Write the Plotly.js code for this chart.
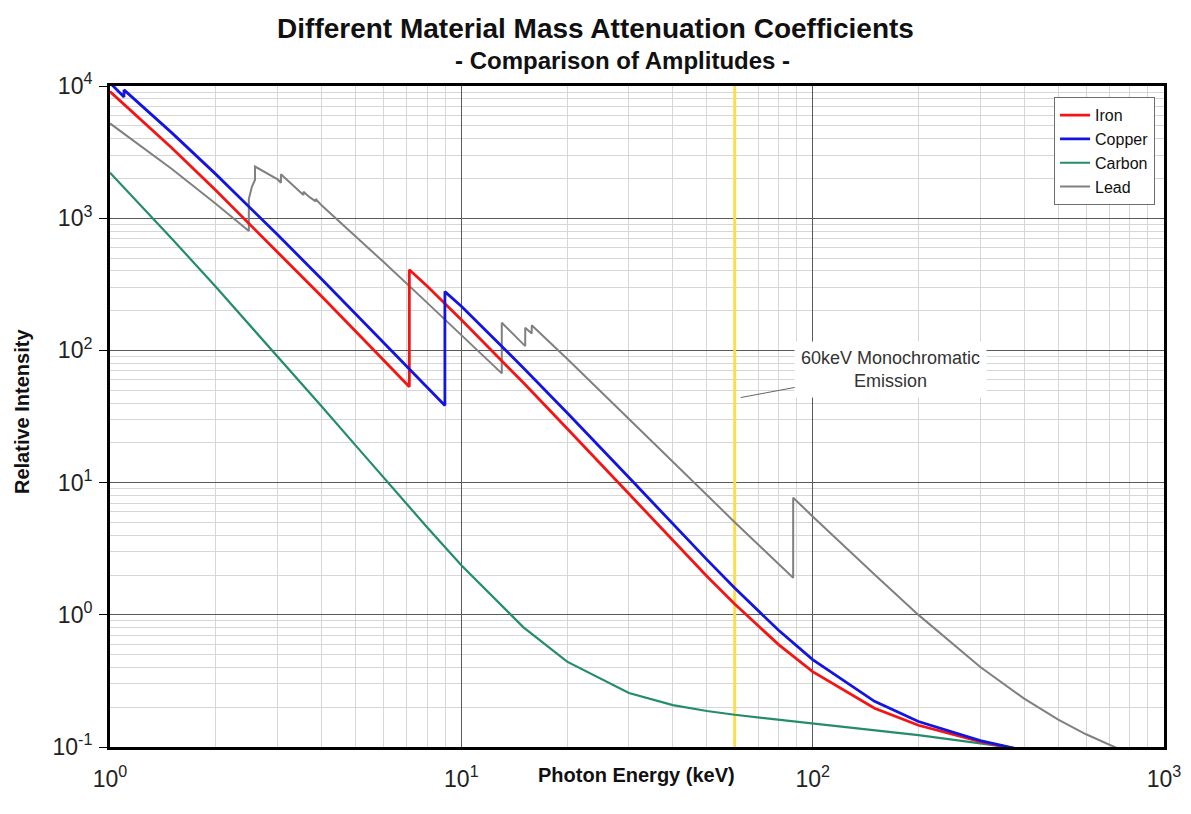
<!DOCTYPE html>
<html>
<head>
<meta charset="utf-8">
<script src="https://cdn.plot.ly/plotly-3.0.1.min.js"></script>
<style>
  html, body { margin: 0; padding: 0; background: #fff; }
  #chart { width: 1191px; height: 814px; }
</style>
</head>
<body>
<div id="chart"></div>
<script>
// Mass attenuation coefficients (cm^2/g) against photon energy (keV).
// Absorption edges appear as a repeated energy with a low and a high value.
const ironKeV = [1, 1.5, 2, 3, 4, 5, 6, 7.112, 7.112, 8, 10, 15, 20, 30, 40, 50, 60, 80, 100, 150, 200, 300, 400];
const ironMu = [9085, 3399, 1626, 557.6, 256.7, 139.5, 84.36, 53.19, 407.6, 305.6, 170.6, 57.08, 25.68, 8.176, 3.629, 1.958, 1.205, 0.5952, 0.3717, 0.1964, 0.146, 0.1099, 0.094];

const copperKeV = [1, 1.0961, 1.0961, 1.5, 2, 3, 4, 5, 6, 8, 8.979, 8.979, 10, 15, 20, 30, 40, 50, 60, 80, 100, 150, 200, 300, 400];
const copperMu = [10570, 8242, 9347, 4418, 2154, 748.8, 347.3, 189.9, 115.6, 52.55, 38.29, 278.4, 215.9, 74.05, 33.79, 10.92, 4.862, 2.613, 1.593, 0.763, 0.4584, 0.2217, 0.1559, 0.1119, 0.09413];

const carbonKeV = [1, 1.5, 2, 3, 4, 5, 6, 8, 10, 15, 20, 30, 40, 50, 60, 80, 100, 150, 200, 300, 400];
const carbonMu = [2211, 700.2, 302.6, 90.33, 37.78, 19.12, 10.95, 4.576, 2.373, 0.8071, 0.442, 0.2562, 0.2076, 0.1871, 0.1753, 0.161, 0.1514, 0.1347, 0.1229, 0.1066, 0.0955];

const leadKeV = [1, 1.5, 2, 2.484, 2.484, 2.534, 2.586, 2.586, 3, 3.066, 3.066, 3.301, 3.554, 3.554, 3.699, 3.851, 3.851, 4, 5, 6, 8, 10, 13.035, 13.035, 15, 15.2, 15.2, 15.527, 15.861, 15.861, 20, 30, 40, 50, 60, 80, 88.004, 88.004, 100, 150, 200, 300, 400, 500, 600, 800];
const leadMu = [5210, 2356, 1285, 800.6, 1397, 1726, 1944, 2458, 1965, 1857, 2146, 1796, 1496, 1585, 1442, 1339, 1396, 1251, 730.4, 467.7, 228.8, 130.6, 67.01, 162.1, 111.6, 107.8, 148.5, 141.6, 134.4, 154.8, 86.36, 30.32, 14.36, 8.041, 5.021, 2.419, 1.910, 7.683, 5.549, 2.014, 0.9985, 0.4031, 0.2323, 0.1614, 0.1248, 0.0887];

// Monochromatic source line
const emissionKeV = 60;
const emissionLabel = '60keV Monochromatic<br>Emission';

// Axis ticks
const xTickVals = [1, 10, 100, 1000];
const xTickText = ['10<sup>0</sup>', '10<sup>1</sup>', '10<sup>2</sup>', '10<sup>3</sup>'];
const yTickVals = [0.1, 1, 10, 100, 1000, 10000];
const yTickText = ['10<sup>-1</sup>', '10<sup>0</sup>', '10<sup>1</sup>', '10<sup>2</sup>', '10<sup>3</sup>', '10<sup>4</sup>'];

// Minor grid positions 2..9 within each decade
function minorLines(fromExp, toExp) {
  const out = [];
  for (let e = fromExp; e < toExp; e++) {
    for (let m = 2; m <= 9; m++) out.push(m * Math.pow(10, e));
  }
  return out;
}

const FONT = 'Arial, "Liberation Sans", Helvetica, sans-serif';

const traces = [
  {
    x: [emissionKeV, emissionKeV], y: [0.1, 10000],
    mode: 'lines', line: { color: 'rgb(250,222,80)', width: 3 },
    showlegend: false, hoverinfo: 'skip'
  },
  {
    name: 'Lead', x: leadKeV, y: leadMu, mode: 'lines',
    line: { color: 'rgb(128,128,128)', width: 2 }, legendrank: 4
  },
  {
    name: 'Carbon', x: carbonKeV, y: carbonMu, mode: 'lines',
    line: { color: 'rgb(35,140,105)', width: 2.2 }, legendrank: 3
  },
  {
    name: 'Iron', x: ironKeV, y: ironMu, mode: 'lines',
    line: { color: 'rgb(245,20,20)', width: 2.8 }, legendrank: 1
  },
  {
    name: 'Copper', x: copperKeV, y: copperMu, mode: 'lines',
    line: { color: 'rgb(20,20,225)', width: 2.8 }, legendrank: 2
  }
];

const axisCommon = {
  type: 'log',
  showline: true, linecolor: '#000', linewidth: 3, mirror: true,
  showgrid: true, gridcolor: '#5a5a5a', gridwidth: 1,
  zeroline: false,
  tickmode: 'array',
  tickfont: { family: FONT, size: 23, color: '#222' }
};

const layout = {
  width: 1191, height: 814,
  margin: { l: 110, r: 27, t: 86, b: 67 },
  paper_bgcolor: '#fff', plot_bgcolor: '#fff',
  font: { family: FONT, color: '#111' },
  title: {
    text: '<b>Different Material Mass Attenuation Coefficients</b>',
    font: { family: FONT, size: 28, color: '#111' },
    x: 0.5, xref: 'container', xanchor: 'center',
    y: 1 - 28 / 814, yref: 'container', yanchor: 'middle'
  },
  xaxis: Object.assign({}, axisCommon, {
    range: [0, 3],
    tickvals: xTickVals, ticktext: xTickText,
    ticks: '', ticklabelstandoff: 9,
    minor: { tickmode: 'array', tickvals: minorLines(0, 3), showgrid: true, gridcolor: '#d6d6d6', gridwidth: 1, ticks: '' }
  }),
  yaxis: Object.assign({}, axisCommon, {
    range: [-1, 4],
    tickvals: yTickVals, ticktext: yTickText,
    ticks: 'outside', ticklen: 8, tickcolor: '#000', tickwidth: 1, ticklabelstandoff: 2,
    minor: { tickmode: 'array', tickvals: minorLines(-1, 4), showgrid: true, gridcolor: '#d6d6d6', gridwidth: 1, ticks: '' }
  }),
  legend: {
    x: 0.9915, xanchor: 'right', y: 0.983, yanchor: 'top',
    bgcolor: '#fff', bordercolor: '#6e6e6e', borderwidth: 1,
    font: { family: FONT, size: 16, color: '#111' },
    tracegroupgap: 0, itemwidth: 30
  },
  annotations: [
    {
      text: '<b>- Comparison of Amplitudes -</b>',
      xref: 'paper', yref: 'paper', x: (622 - 110) / 1054, y: (747 - 60) / 661,
      xanchor: 'center', yanchor: 'middle', showarrow: false,
      font: { family: FONT, size: 24, color: '#111' }
    },
    {
      text: '<b>Photon Energy (keV)</b>',
      xref: 'paper', yref: 'paper', x: (636 - 110) / 1054, y: (747 - 775) / 661,
      xanchor: 'center', yanchor: 'middle', showarrow: false,
      font: { family: FONT, size: 20, color: '#111' }
    },
    {
      text: '<b>Relative Intensity</b>',
      xref: 'paper', yref: 'paper', x: (22 - 110) / 1054, y: (747 - 412) / 661,
      xanchor: 'center', yanchor: 'middle', textangle: -90, showarrow: false,
      font: { family: FONT, size: 20, color: '#111' }
    },
    {
      text: emissionLabel,
      xref: 'x', yref: 'y', x: Math.log10(emissionKeV), y: Math.log10(44),
      xshift: 6,
      ax: 150, ay: -28, axref: 'pixel', ayref: 'pixel',
      showarrow: true, arrowhead: 0, arrowwidth: 1, arrowcolor: '#666',
      bgcolor: '#fff', borderpad: 6,
      font: { family: FONT, size: 18, color: '#333' }
    }
  ]
};

Plotly.newPlot('chart', traces, layout, { displayModeBar: false, staticPlot: true });
</script>
</body>
</html>
